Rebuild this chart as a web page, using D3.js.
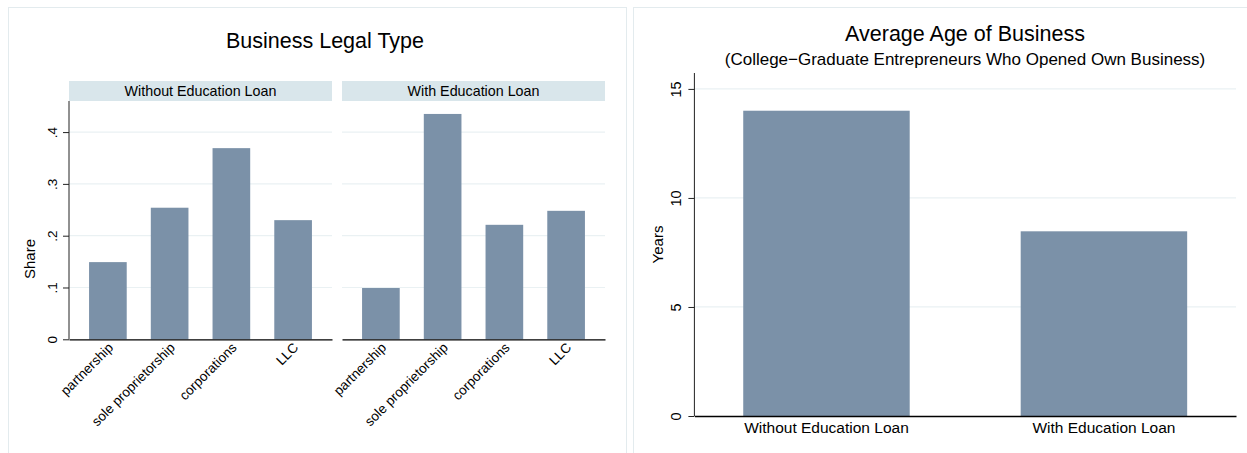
<!DOCTYPE html>
<html>
<head>
<meta charset="utf-8">
<script src="https://cdn.jsdelivr.net/npm/d3@7"></script>
<style>
  html, body { margin: 0; padding: 0; background: #ffffff; }
  svg { display: block; }
  text { font-family: "Liberation Sans", Arial, Helvetica, sans-serif; fill: #000; }
</style>
</head>
<body>
<svg id="chart" width="1247" height="453"></svg>
<script>
// ---------- data ----------
const categories = ["partnership", "sole proprietorship", "corporations", "LLC"];
const groups = ["Without Education Loan", "With Education Loan"];
const shareWithoutLoan = [0.149, 0.254, 0.369, 0.230];
const shareWithLoan = [0.099, 0.435, 0.221, 0.248];
const avgAgeYears = [14.0, 8.47];
const shareTicks = [0, 0.1, 0.2, 0.3, 0.4];
const shareTickLabels = ["0", ".1", ".2", ".3", ".4"];
const yearTicks = [0, 5, 10, 15];
const leftTitle = "Business Legal Type";
const rightTitle = "Average Age of Business";
const rightSubtitle = "(College\u2212Graduate Entrepreneurs Who Opened Own Business)";

// ---------- styles ----------
const barColor = "#7b91a8";
const stripColor = "#d9e6eb";
const gridColor = "#eaf1f3";
const boxColor = "#e3ebee";

const svg = d3.select("#chart");

// ---------- left chart ----------
svg.append("rect").attr("x", 8.5).attr("y", 7.5).attr("width", 618).attr("height", 470)
  .attr("fill", "none").attr("stroke", boxColor);

svg.append("text").attr("x", 325).attr("y", 48).attr("text-anchor", "middle")
  .style("font-size", "21.5px").text(leftTitle);

const yShare = d3.scaleLinear().domain([0, 0.46]).range([339.3, 101]);
const panelRanges = [[69, 332], [342, 605]];
const panelData = [shareWithoutLoan, shareWithLoan];

panelRanges.forEach((rng, pi) => {
  const x = d3.scaleBand().domain(categories).range(rng).paddingInner(0.39).paddingOuter(0.325);
  const g = svg.append("g");
  // strip
  g.append("rect").attr("x", rng[0]).attr("y", 81).attr("width", rng[1] - rng[0]).attr("height", 20)
    .attr("fill", stripColor);
  g.append("text").attr("x", (rng[0] + rng[1]) / 2).attr("y", 95.5).attr("text-anchor", "middle")
    .style("font-size", "14.3px").text(groups[pi]);
  // grid
  g.selectAll("line.grid").data(shareTicks.filter(d => d > 0)).join("line")
    .attr("x1", rng[0]).attr("x2", rng[1])
    .attr("y1", d => yShare(d)).attr("y2", d => yShare(d))
    .attr("stroke", gridColor).attr("stroke-width", 1.2);
  // bars
  g.selectAll("rect.bar").data(categories).join("rect")
    .attr("x", d => x(d)).attr("width", x.bandwidth())
    .attr("y", (d, i) => yShare(panelData[pi][i]))
    .attr("height", (d, i) => yShare(0) - yShare(panelData[pi][i]))
    .attr("fill", barColor);
  // x axis
  const xa = g.append("g").attr("transform", `translate(0,${yShare(0)})`)
    .call(d3.axisBottom(x).tickSize(0).tickSizeOuter(0));
  xa.select(".domain").attr("stroke", "#000").attr("stroke-width", 1.3);
  xa.selectAll(".tick text")
    .attr("y", 0).attr("dy", "0.75em")
    .attr("text-anchor", "end")
    .attr("transform", "translate(-1,2) rotate(-45)")
    .style("font-size", "13.5px").style("font-family", "Liberation Sans, Arial, sans-serif")
    .attr("fill", "#000");
});

// left y axis
const ya = svg.append("g").attr("transform", "translate(69,0)")
  .call(d3.axisLeft(yShare).tickValues(shareTicks).tickSize(6).tickSizeOuter(0)
    .tickFormat((d, i) => shareTickLabels[i]));
ya.select(".domain").attr("stroke", "#222").attr("d", `M0,${yShare(0)}V101`);
ya.selectAll(".tick line").attr("stroke", "#222");
ya.selectAll(".tick text")
  .attr("x", 0).attr("dy", 0).attr("text-anchor", "middle")
  .attr("transform", "translate(-12,0) rotate(-90)")
  .style("font-size", "13.5px").style("font-family", "Liberation Sans, Arial, sans-serif").attr("fill", "#000");

svg.append("text").attr("transform", "translate(35,259) rotate(-90)").attr("text-anchor", "middle")
  .style("font-size", "15px").text("Share");

// ---------- right chart ----------
svg.append("rect").attr("x", 633.5).attr("y", 7.5).attr("width", 640).attr("height", 470)
  .attr("fill", "none").attr("stroke", boxColor);

svg.append("text").attr("x", 965).attr("y", 41).attr("text-anchor", "middle")
  .style("font-size", "21.5px").text(rightTitle);
svg.append("text").attr("x", 965).attr("y", 64.5).attr("text-anchor", "middle")
  .style("font-size", "17px").text(rightSubtitle);

const yAge = d3.scaleLinear().domain([0, 15.73]).range([416, 73]);
const xAge = d3.scaleBand().domain(groups).range([694.4, 1236]).paddingInner(0.4).paddingOuter(0.176);

svg.append("g").selectAll("line").data(yearTicks.filter(d => d > 0)).join("line")
  .attr("x1", 694.4).attr("x2", 1236)
  .attr("y1", d => yAge(d)).attr("y2", d => yAge(d))
  .attr("stroke", gridColor).attr("stroke-width", 1.2);

svg.append("g").selectAll("rect").data(groups).join("rect")
  .attr("x", d => xAge(d)).attr("width", xAge.bandwidth())
  .attr("y", (d, i) => yAge(avgAgeYears[i]))
  .attr("height", (d, i) => yAge(0) - yAge(avgAgeYears[i]))
  .attr("fill", barColor);

const xb = svg.append("g").attr("transform", `translate(0,${yAge(0)})`)
  .call(d3.axisBottom(xAge).tickSize(0).tickSizeOuter(0));
xb.select(".domain").attr("stroke", "#000").attr("stroke-width", 1.3);
xb.selectAll(".tick text").attr("y", 0).attr("dy", "17px")
  .style("font-size", "15.5px").style("font-family", "Liberation Sans, Arial, sans-serif").attr("fill", "#000");

const yb = svg.append("g").attr("transform", "translate(694.4,0)")
  .call(d3.axisLeft(yAge).tickValues(yearTicks).tickSize(6).tickSizeOuter(0).tickFormat(d3.format("d")));
yb.select(".domain").attr("stroke", "#222").attr("d", `M0,${yAge(0)}V73`);
yb.selectAll(".tick line").attr("stroke", "#222");
yb.selectAll(".tick text")
  .attr("x", 0).attr("dy", 0).attr("text-anchor", "middle")
  .attr("transform", "translate(-13,0) rotate(-90)")
  .style("font-size", "14.5px").style("font-family", "Liberation Sans, Arial, sans-serif").attr("fill", "#000");

svg.append("text").attr("transform", "translate(663,244.5) rotate(-90)").attr("text-anchor", "middle")
  .style("font-size", "15px").text("Years");
</script>
</body>
</html>
